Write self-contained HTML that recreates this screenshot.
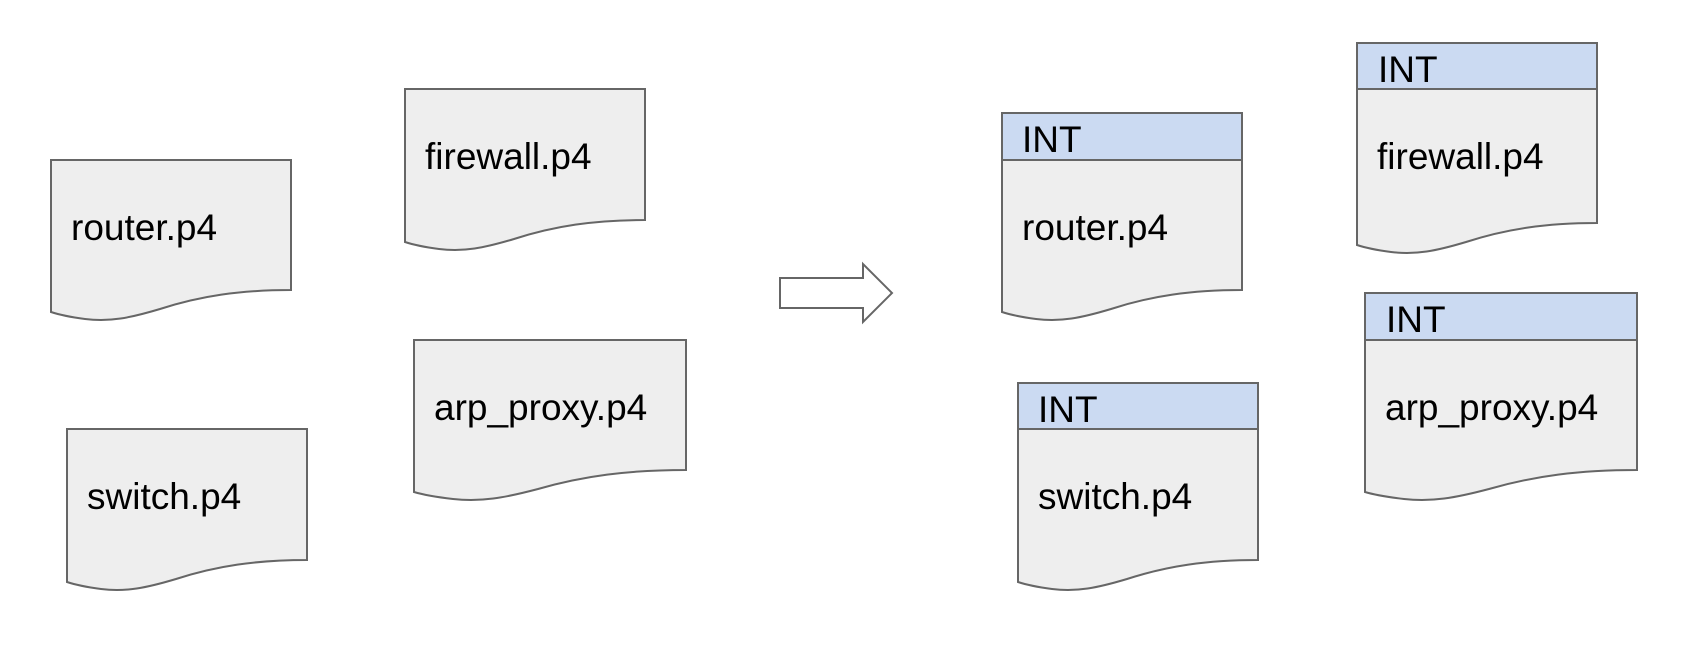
<!DOCTYPE html>
<html><head><style>html,body{margin:0;padding:0;background:#fff}svg{display:block}
text{font-family:"Liberation Sans",Arial,sans-serif;font-size:37px;fill:#000}</style></head>
<body>
<svg width="1704" height="664" viewBox="0 0 1704 664" xmlns="http://www.w3.org/2000/svg">
<g stroke="#666" stroke-width="2" fill="#eeeeee">
<path d="M51,160 H291 V290 C240,290 200,296 160,309 C130,318 110,322 85,319 C70,317 60,315 51,312 Z"/>
<path d="M405,89 H645 V220 C594,220 554,226 514,239 C484,248 464,252 439,249 C424,247 414,245 405,242 Z"/>
<path d="M414,340 H686 V470 C628,470 583,476 538,489 C504,498 481,502 453,499 C436,497 424,495 414,492 Z"/>
<path d="M67,429 H307 V560 C256,560 216,566 176,579 C146,588 126,592 101,589 C86,587 76,585 67,582 Z"/>
<path d="M780,278 H863 V264 L892,293 L863,322 V308 H780 Z" fill="#fff"/>
<path d="M1002,113 H1242 V290 C1191,290 1151,296 1111,309 C1081,318 1061,322 1036,319 C1021,317 1011,315 1002,312 Z"/>
<path d="M1357,43 H1597 V223 C1546,223 1506,229 1466,242 C1436,251 1416,255 1391,252 C1376,250 1366,248 1357,245 Z"/>
<path d="M1018,383 H1258 V560 C1207,560 1167,566 1127,579 C1097,588 1077,592 1052,589 C1037,587 1027,585 1018,582 Z"/>
<path d="M1365,293 H1637 V470 C1579,470 1534,476 1489,489 C1455,498 1432,502 1404,499 C1387,497 1375,495 1365,492 Z"/>
<g fill="#cbdaf2">
<rect x="1002" y="113" width="240" height="47"/>
<rect x="1357" y="43" width="240" height="46"/>
<rect x="1018" y="383" width="240" height="46"/>
<rect x="1365" y="293" width="272" height="47"/>
</g>
</g>
<text x="71" y="240">router.p4</text>
<text x="425" y="169">firewall.p4</text>
<text x="434" y="420">arp_proxy.p4</text>
<text x="87" y="509">switch.p4</text>
<text x="1022" y="152">INT</text>
<text x="1022" y="240">router.p4</text>
<text x="1378" y="82">INT</text>
<text x="1377" y="169">firewall.p4</text>
<text x="1038" y="422">INT</text>
<text x="1038" y="509">switch.p4</text>
<text x="1386" y="332">INT</text>
<text x="1385" y="420">arp_proxy.p4</text>
</svg>
</body></html>
